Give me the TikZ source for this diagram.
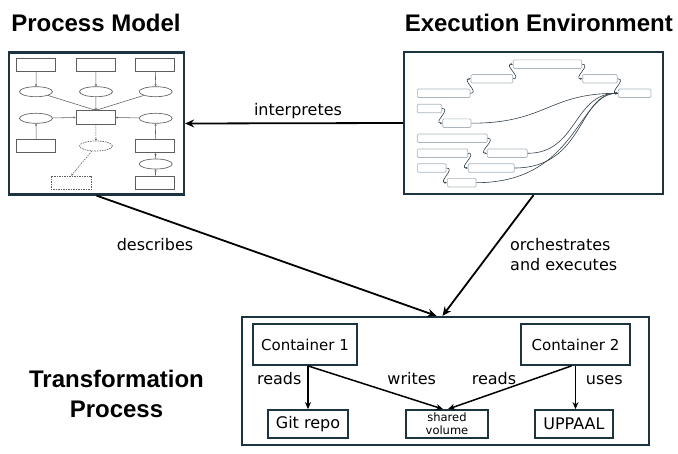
\documentclass[tikz,border=0pt]{standalone}
\usepackage{fontspec}
\setmainfont{DejaVu Sans}
\newfontfamily\headfont{Liberation Sans}
\usetikzlibrary{arrows.meta,calc,shapes.geometric}

\definecolor{frame}{HTML}{1C3342}
\definecolor{sketch}{HTML}{5E5E5E}
\definecolor{flowbox}{HTML}{A9B6BF}
\definecolor{flowline}{HTML}{34424C}

\tikzset{
  panel/.style={draw=frame, line width=2.2pt, fill=white, inner sep=0pt},
  heading/.style={font=\headfont\bfseries\fontsize{24}{28}\selectfont, inner sep=0pt},
  lbl/.style={font=\fontsize{16}{19}\selectfont, inner sep=0pt},
  mbox/.style={draw=sketch, line width=0.65pt, minimum width=39pt, minimum height=13.4pt, inner sep=0pt},
  mell/.style={ellipse, draw=sketch, line width=0.65pt, minimum width=33pt, minimum height=10pt, inner sep=0pt},
  mline/.style={draw=sketch, line width=0.55pt, -{Stealth[length=2.2pt,width=2.2pt]}},
  mdash/.style={mline, dash pattern=on 1.5pt off 1pt},
  fbox/.style={draw=flowbox, line width=0.7pt, rounded corners=1.2pt, minimum height=8.6pt, inner sep=0pt},
  fline/.style={draw=flowline, line width=0.6pt, -{Stealth[length=2.5pt,width=2pt]}},
  unit/.style={draw=frame, line width=1.8pt, inner sep=0pt},
  bigarrow/.style={line width=1.8pt, -{Stealth[length=9pt,width=8pt]}},
  linkarrow/.style={line width=1.5pt, -{Stealth[length=7pt,width=6pt]}}
}

\begin{document}
\begin{tikzpicture}[x=1pt,y=-1pt]
\useasboundingbox (0,0) rectangle (678,454);

% headings
\node[heading, anchor=base] (hpm) at (96,32) {Process Model};
\node[heading, anchor=base east] (hee) at (673,32) {Execution Environment};
\node[heading, anchor=base] (htp1) at (116.5,388) {Transformation};
\node[heading, anchor=base] (htp2) at (116.5,418) {Process};

% panels
\node[panel, minimum width=175pt, minimum height=142pt] (pm) at (96.5,123.5) {};
\node[panel, minimum width=259pt, minimum height=142pt] (ee) at (533.5,123) {};
\node[panel, minimum width=407pt, minimum height=128pt] (tp) at (445.5,381) {};

% ---- process model sketch ----
\node[mbox] (r1) at (36.2,65) {};
\node[mbox] (r2) at (95.8,65) {};
\node[mbox] (r3) at (155.3,65) {};
\node[mell] (e1) at (36,91.7) {};
\node[mell] (e2) at (96,91.7) {};
\node[mell] (e3) at (155.7,91.7) {};
\node[mbox, minimum width=39.7pt, minimum height=13.6pt] (rc) at (95.8,117.5) {};
\node[mell] (e4) at (36,118.3) {};
\node[mell] (e5) at (155.7,118.3) {};
\node[mbox] (r4) at (36.2,146) {};
\node[mell, dash pattern=on 1.5pt off 1pt] (e6) at (96,146) {};
\node[mbox, dash pattern=on 1.5pt off 1pt, minimum width=40.7pt] (r5) at (71.3,182.7) {};
\node[mbox] (r6) at (155.3,146) {};
\node[mell] (e7) at (155.7,164) {};
\node[mbox] (r7) at (155.3,182.7) {};

\draw[mline] (r1) -- (e1);
\draw[mline] (r2) -- (e2);
\draw[mline] (r3) -- (e3);
\draw[mline] (e1) -- (rc.north);
\draw[mline] (e2) -- (rc.north);
\draw[mline] (e3) -- (rc.north);
\draw[mline] (e4) -- (rc.west);
\draw[mline] (e5) -- (rc.east);
\draw[mline] (r4) -- (e4);
\draw[mline] (r6) -- (e5);
\draw[mline] (e7) -- (r6);
\draw[mline] (r7) -- (e7);
\draw[mdash] (rc) -- (e6);
\draw[mdash] (e6) -- (r5.north);

% ---- execution environment sketch ----
\node[fbox, minimum width=68.4pt] (b1) at (547.5,64.2) {};
\node[fbox, minimum width=41.7pt] (b2) at (491.9,78.8) {};
\node[fbox, minimum width=34.6pt] (b3) at (600,78.8) {};
\node[fbox, minimum width=52.7pt] (b4) at (443.7,93.3) {};
\node[fbox, minimum width=32.7pt] (tg) at (634.7,93.3) {};
\node[fbox, minimum width=24.4pt] (b5) at (429.5,108.5) {};
\node[fbox, minimum width=28.3pt] (b6) at (456.9,123.2) {};
\node[fbox, minimum width=70pt] (b7) at (452.3,138.3) {};
\node[fbox, minimum width=40pt] (b8) at (507.3,153.3) {};
\node[fbox, minimum width=50.4pt] (b9) at (442.5,153.3) {};
\node[fbox, minimum width=46pt] (b10) at (491.3,168) {};
\node[fbox, minimum width=28.7pt] (b11) at (431.7,168) {};
\node[fbox, minimum width=28.7pt] (b12) at (461.7,182.7) {};

\draw[fline] (b4.east) .. controls +(10,0) and +(-10,0) .. (b2.west);
\draw[fline] (b2.east) .. controls +(10,0) and +(-10,0) .. (b1.west);
\draw[fline] (b1.east) .. controls +(10,0) and +(-10,0) .. (b3.west);
\draw[fline] (b3.east) .. controls +(10,0) and +(-10,0) .. (tg.west);
\draw[fline] (b5.east) .. controls +(10,0) and +(-10,0) .. (b6.west);
\draw[fline] (b7.east) .. controls +(10,0) and +(-10,0) .. (b8.west);
\draw[fline] (b9.east) .. controls +(10,0) and +(-10,0) .. (b10.west);
\draw[fline] (b11.east) .. controls +(10,0) and +(-10,0) .. (b12.west);
\draw[fline] (b6.east) .. controls +(75,0) and +(-70,0) .. (tg.west);
\draw[fline] (b8.east) .. controls +(50,0) and +(-45,0) .. (tg.west);
\draw[fline] (b10.east) .. controls +(70,0) and +(-40,0) .. (tg.west);
\draw[fline] (b12.east) .. controls +(100,0) and +(-40,0) .. (tg.west);

% ---- transformation process ----
\node[unit, minimum width=104pt, minimum height=41pt, font=\fontsize{15}{18}\selectfont] (c1) at (305,344.5) {Container 1};
\node[unit, minimum width=109pt, minimum height=41pt, font=\fontsize{15}{18}\selectfont] (c2) at (575.5,344.5) {Container 2};
\node[unit, minimum width=80pt, minimum height=28pt, font=\fontsize{16}{19}\selectfont] (git) at (308,424) {Git repo};
\node[unit, minimum width=82pt, minimum height=28pt, align=center, font=\fontsize{11.5}{13}\selectfont] (vol) at (447,424) {shared\\volume};
\node[unit, minimum width=78pt, minimum height=28pt, font=\fontsize{16}{19}\selectfont] (upl) at (574,424) {UPPAAL};

\draw[linkarrow] (c1.south -| git) -- (git.north);
\draw[linkarrow] ($(c1.south)+(3,0)$) -- ($(vol.north)+(-4,0)$);
\draw[linkarrow] ($(c2.south)+(-4,0)$) -- ($(vol.north)+(1,0)$);
\draw[linkarrow] (c2.south) -- (c2.south |- upl.north);

\node[lbl, anchor=base] (l1) at (279.2,385) {reads};
\node[lbl, anchor=base] (l2) at (411.7,385) {writes};
\node[lbl, anchor=base] (l3) at (494,385) {reads};
\node[lbl, anchor=base] (l4) at (604.3,385) {uses};

% ---- relations between panels ----
\draw[bigarrow] (ee.west) -- (pm.east);
\draw[bigarrow] (pm.south) -- ($(tp.north)+(-9,0)$);
\draw[bigarrow] (ee.south) -- ($(tp.north)+(-3,0)$);

\node[lbl, anchor=base] (linterp) at (298,115.7) {interpretes};
\node[lbl, anchor=base] (ldesc) at (155,251) {describes};
\node[lbl, anchor=base west] (lorch1) at (510,251) {orchestrates};
\node[lbl, anchor=base west] (lorch2) at (510,271) {and executes};
\end{tikzpicture}
\end{document}
